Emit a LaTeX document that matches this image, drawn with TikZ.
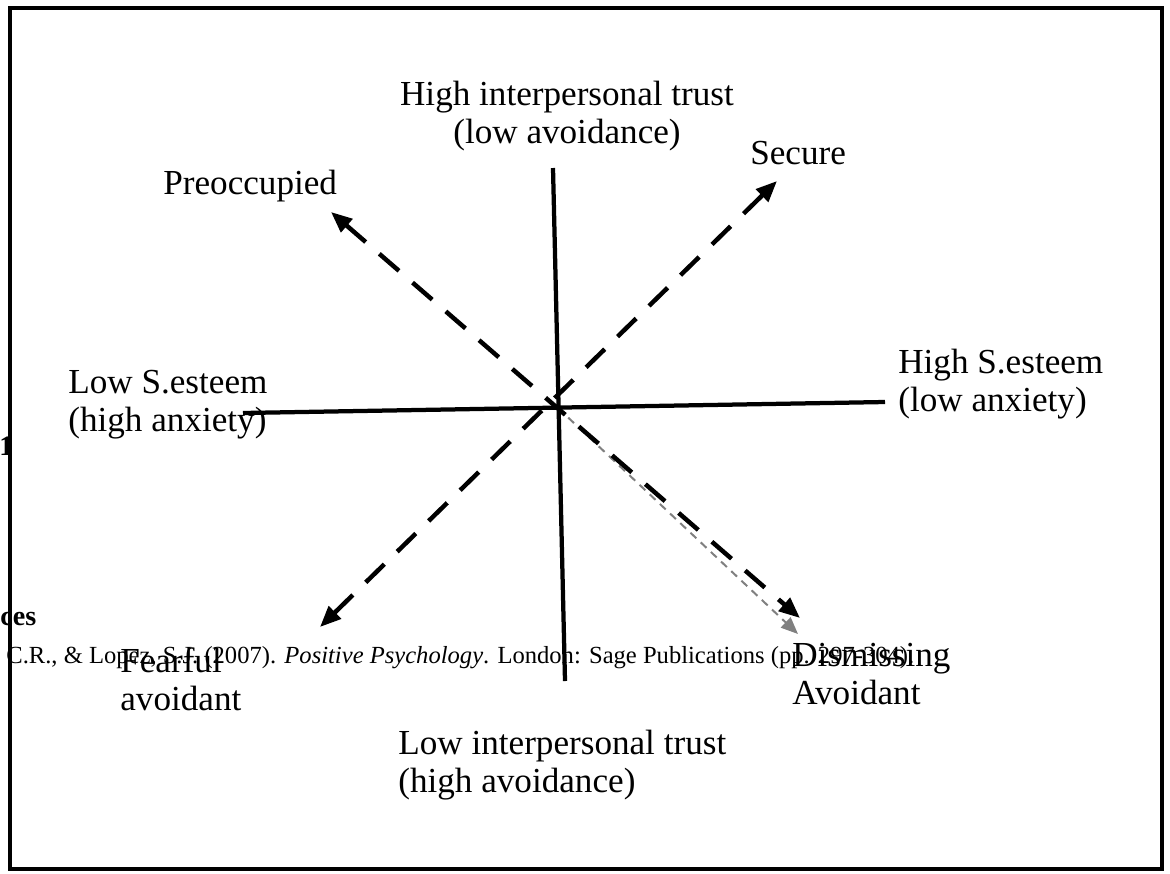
\documentclass[tikz,border=0pt]{standalone}
\usepackage{fontspec}
\setmainfont{Liberation Serif}
\usetikzlibrary{arrows.meta}

\begin{document}
\begin{tikzpicture}[
    x=0.02cm, y=-0.02cm,
    lbl/.style={font=\fontsize{20}{21.5}\selectfont, align=left, inner sep=0pt, anchor=west},
    cite/.style={font=\fontsize{14}{17}\selectfont, inner sep=0pt, anchor=base west},
    axis/.style={line width=0.085cm},
    pole/.style={line width=0.09cm, dash pattern=on 0.52cm off 0.36cm, {Triangle[length=0.42cm,width=0.34cm]}-{Triangle[length=0.42cm,width=0.34cm]}},
    hint/.style={gray, line width=0.04cm, dash pattern=on 0.16cm off 0.12cm, -{Triangle[length=0.34cm,width=0.28cm]}}
  ]
  \useasboundingbox (0,0) rectangle (1170,873);

  % leftover slide text
  \node[cite, font=\fontsize{16}{18}\bfseries\selectfont] (num) at (-1,455) {1};
  \node[cite, font=\fontsize{16}{18}\bfseries\selectfont] (refs) at (0,625) {ces};
  \node[cite] (ref) at (6,663) {C.R., \& Lopez, S.J. (2007). \textit{Positive Psychology}. London: Sage Publications (pp. 297-304).};

  % axis labels
  \node[lbl, align=center, anchor=center] (hitrust) at (567,116) {High interpersonal trust\\(low avoidance)};
  \node[lbl] (lotrust) at (398,765) {Low interpersonal trust\\(high avoidance)};
  \node[lbl] (loesteem) at (68,405) {Low S.esteem\\(high anxiety)};
  \node[lbl] (hiesteem) at (898,384) {High S.esteem\\(low anxiety)};

  % attachment styles
  \node[lbl] (secure) at (750,153) {Secure};
  \node[lbl] (preocc) at (163,186) {Preoccupied};
  \node[lbl] (fearful) at (120,679) {Fearful\\avoidant};
  \node[lbl] (dismiss) at (792,674) {Dismissing\\Avoidant};

  \coordinate (top) at (553,168);
  \coordinate (bottom) at (565,681);
  \coordinate (left) at (243,413);
  \coordinate (right) at (885,402);
  \coordinate (centre) at (558,408);
  \coordinate (tipP) at (331,212);
  \coordinate (tipD) at (800,618);
  \coordinate (tipS) at (777,181);
  \coordinate (tipF) at (320,627);
  \coordinate (tipG) at (798,634);

  \draw[axis] (top) -- (bottom);
  \draw[axis] (left) -- (right);
  \draw[hint] (centre) -- (tipG);
  \draw[pole] (tipP) -- (tipD);
  \draw[pole] (tipF) -- (tipS);

  \draw[line width=0.085cm] (10,8) rectangle (1162,869);
\end{tikzpicture}
\end{document}
